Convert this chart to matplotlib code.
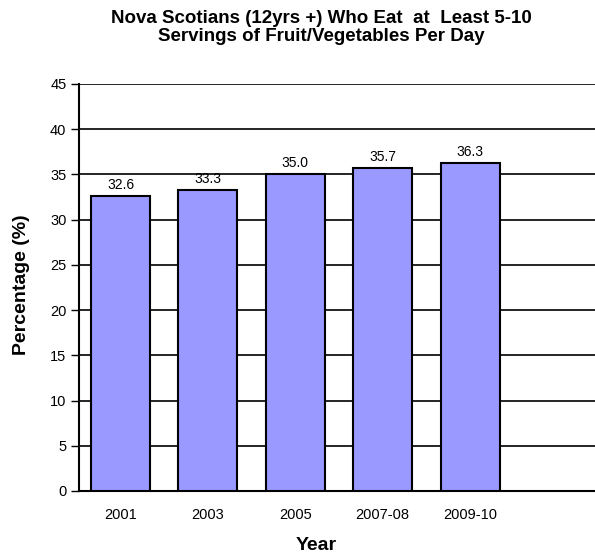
import numpy as np
import matplotlib.pyplot as plt
import matplotlib as mpl

# ==========================================
# plot style
# ==========================================
mpl.rcParams.update({
    "font.family": ["Liberation Sans", "DejaVu Sans"],
    "font.size": 10,
})

# --- data ---
years = ["2001", "2003", "2005", "2007-08", "2009-10"]
pct = [32.6, 33.3, 35.0, 35.7, 36.3]
yticks = [0, 5, 10, 15, 20, 25, 30, 35, 40, 45]

W, H = 595, 554
fig = plt.figure(figsize=(W / 100, H / 100), dpi=100)
ax = fig.add_axes([79 / W, (H - 491) / H, (595 - 79) / W, (491 - 84) / H])

x = np.arange(len(years))
ax.bar(x, pct, width=0.675, color="#9999FF", edgecolor="black",
       linewidth=1.5, zorder=3)
for xi, v in zip(x, pct):
    ax.text(xi, v + 0.45, f"{v:.1f}", ha="center", va="bottom", fontsize=10)

ax.set_xlim(-0.475, 5.43)
ax.set_ylim(0, 45)
ax.set_yticks(yticks)
ax.set_xticks(x)
ax.set_xticklabels(years, fontsize=10.5)
ax.tick_params(axis="y", length=6, width=1, labelsize=10.5, pad=3)
ax.tick_params(axis="x", length=0, pad=12)
ax.yaxis.grid(True, color="black", lw=1.2, zorder=0)

for s in ["top", "right"]:
    ax.spines[s].set_visible(False)
ax.spines["left"].set_linewidth(1.5)
ax.spines["bottom"].set_linewidth(1.5)

fig.text(321 / W, 1 - 10 / H,
         "Nova Scotians (12yrs +) Who Eat  at  Least 5-10\nServings of Fruit/Vegetables Per Day",
         ha="center", va="top", fontsize=13.5, fontweight="bold", linespacing=1.05)
fig.text(22 / W, 1 - 285 / H, "Percentage (%)", rotation=90, ha="center",
         va="center", fontsize=14, fontweight="bold")
fig.text(316 / W, 1 - 545 / H, "Year", ha="center", va="center",
         fontsize=14, fontweight="bold")

fig.savefig("out.png", dpi=100)
